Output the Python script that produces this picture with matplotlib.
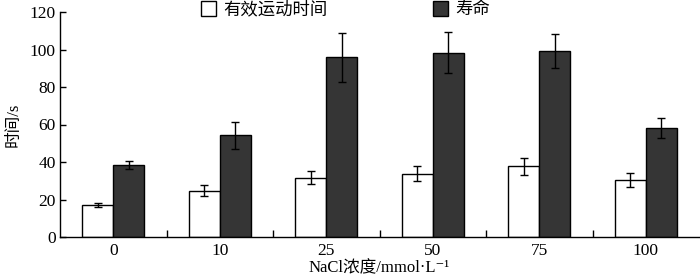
import numpy as np
import matplotlib
matplotlib.use("Agg")
from matplotlib import pyplot as plt
from matplotlib.patches import Patch

plt.rcParams['font.family'] = ['Liberation Serif', 'Noto Sans CJK SC', 'DejaVu Serif']

# data
categories = ['0', '10', '25', '50', '75', '100']
active_time = [17, 24.8, 31.7, 33.7, 37.8, 30.2]
active_err = [1, 3, 3.4, 4, 4.6, 3.7]
lifespan = [38.3, 54.2, 95.9, 98.4, 99.3, 58.2]
lifespan_err = [2, 7, 13, 11, 9, 5.5]

fig = plt.figure(figsize=(7, 2.79), dpi=100)
ax = fig.add_axes([60/700, 42/279, 639/700, 225/279])

x = np.arange(len(categories))
w = 0.29
ax.bar(x - w/2, active_time, w, color='white', edgecolor='black', linewidth=1.0)
ax.bar(x + w/2, lifespan, w, color='#353535', edgecolor='black', linewidth=1.0)
ax.errorbar(x - w/2, active_time, yerr=active_err, fmt='none', ecolor='black',
            elinewidth=1.0, capsize=3, capthick=1.0)
ax.errorbar(x + w/2, lifespan, yerr=lifespan_err, fmt='none', ecolor='black',
            elinewidth=1.0, capsize=3, capthick=1.0)

ax.set_xlim(-0.5, len(categories) - 0.5)
ax.set_ylim(0, 120)
ax.set_yticks(np.arange(0, 121, 20))
ax.set_xticks(x)
ax.set_xticklabels(categories)
ax.set_xticks(np.arange(0.5, len(categories) - 0.5, 1), minor=True)
ax.tick_params(axis='x', which='major', length=0, labelsize=12.5, pad=4)
ax.tick_params(axis='x', which='minor', direction='in', length=5, width=1)
ax.tick_params(axis='y', direction='in', length=4, width=1, labelsize=12.5, pad=3)

ax.spines['top'].set_visible(False)
ax.spines['right'].set_visible(False)
ax.spines['left'].set_linewidth(1)
ax.spines['bottom'].set_linewidth(1)

ax.set_ylabel('时间/s', fontsize=12, labelpad=6)
ax.set_xlabel('NaCl浓度/mmol·L⁻¹', fontsize=12, labelpad=1)

# two legend entries placed apart, as in the original
h1 = Patch(facecolor='white', edgecolor='black', linewidth=1.0)
h2 = Patch(facecolor='#353535', edgecolor='black', linewidth=1.0)
fig.legend([h1], ['有效运动时间'], loc='center left',
           bbox_to_anchor=(185/700, 0.965), frameon=False, fontsize=12.5,
           handlelength=0.9, handleheight=0.9, handletextpad=0.4)
fig.legend([h2], ['寿命'], loc='center left',
           bbox_to_anchor=(417/700, 0.965), frameon=False, fontsize=12.5,
           handlelength=0.9, handleheight=0.9, handletextpad=0.4)

plt.savefig('out.png', dpi=100)
